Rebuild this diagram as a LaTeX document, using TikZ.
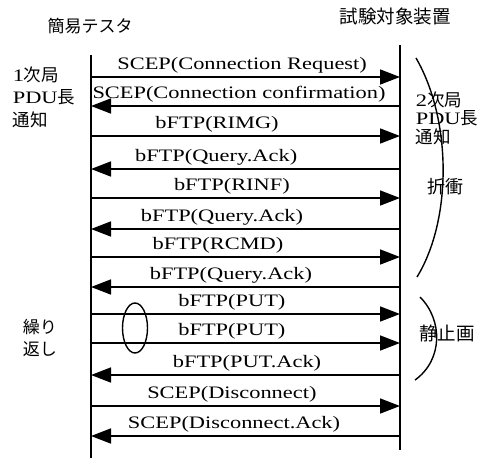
\documentclass[tikz,border=0pt]{standalone}
\usepackage{fontspec}
\setmainfont{Liberation Serif}
\newfontfamily\msgfont[FakeStretch=1.28]{Liberation Serif}
\newfontfamily\jpfont{Noto Sans CJK JP}
\newcommand{\jp}[1]{{\jpfont #1}}
\usetikzlibrary{arrows.meta}
\usetikzlibrary{positioning}

\begin{document}
\begin{tikzpicture}[x=1pt, y=-1pt, line width=1.6pt,
 every node/.style={inner sep=1pt},
 msg/.style={-{Triangle[length=20pt, width=15pt]}},
 la/.style={above=2pt, font=\fontsize{17.5}{17.5}\msgfont},
 side/.style={align=left, anchor=west, font=\fontsize{17.5}{22.5}\msgfont},
 head/.style={font=\fontsize{17}{17}\jpfont}
]
\useasboundingbox (0,0) rectangle (481,458);

% lifelines
\node[head] (tester) at (90,26) {簡易テスタ};
\node[head, font=\fontsize{18.5}{18.5}\jpfont] (dut) at (395,16) {試験対象装置};
\coordinate (tTop) at (91,55);
\coordinate (tEnd) at (91,458);
\coordinate (dTop) at (400,45);
\coordinate (dEnd) at (400,450);
\draw (tTop) -- (tEnd);
\draw (dTop) -- (dEnd);

\foreach \y [count=\i] in {77,106,136,169,198,229,257,287,314,343,375,406,436}{
 \coordinate (L\i) at (91,\y);
 \coordinate (R\i) at (400,\y);
}

% messages
\draw[msg] (L1) -- (R1) node[la, pos=.489] {SCEP(Connection Request)};
\draw[msg] (R2) -- (L2) node[la, pos=.521] {SCEP(Connection confirmation)};
\draw[msg] (L3) -- (R3) node[la, pos=.408] {bFTP(RIMG)};
\draw[msg] (R4) -- (L4) node[la, pos=.595] {bFTP(Query.Ack)};
\draw[msg] (L5) -- (R5) node[la, pos=.456] {bFTP(RINF)};
\draw[msg] (R6) -- (L6) node[la, pos=.576] {bFTP(Query.Ack)};
\draw[msg] (L7) -- (R7) node[la, pos=.411] {bFTP(RCMD)};
\draw[msg] (R8) -- (L8) node[la, pos=.547] {bFTP(Query.Ack)};
\draw[msg] (L9) -- (R9) node[la, pos=.456] {bFTP(PUT)};
\draw[msg] (L10) -- (R10) node[la, pos=.456] {bFTP(PUT)};
\draw[msg] (R11) -- (L11) node[la, pos=.495] {bFTP(PUT.Ack)};
\draw[msg] (L12) -- (R12) node[la, pos=.456] {SCEP(Disconnect)};
\draw[msg] (R13) -- (L13) node[la, pos=.537] {SCEP(Disconnect.Ack)};

% notes on the left
\node[side] (pduOne) at (11,97) {1\jp{次局}\\PDU\jp{長}\\\jp{通知}};
\node[side, font=\fontsize{17}{22}\jpfont] (rep) at (21,338) {繰り\\返し};
\draw[line width=1.4pt] (135,328) ellipse [x radius=12.5, y radius=25];

% notes on the right
\draw[line width=1.4pt] (416,58) .. controls (452,120) and (452,220) .. (417,277);
\draw[line width=1.4pt] (420,297) .. controls (443,320) and (443,360) .. (415,380);
\node[side, font=\fontsize{17.5}{18.5}\msgfont] (pduTwo) at (414,118) {2\jp{次局}\\PDU\jp{長}\\\jp{通知}};
\node[head, font=\fontsize{18}{18}\jpfont] (nego) at (445,187) {折衝};
\node[head, font=\fontsize{18.5}{18.5}\jpfont] (still) at (447,333) {静止画};
\end{tikzpicture}
\end{document}
